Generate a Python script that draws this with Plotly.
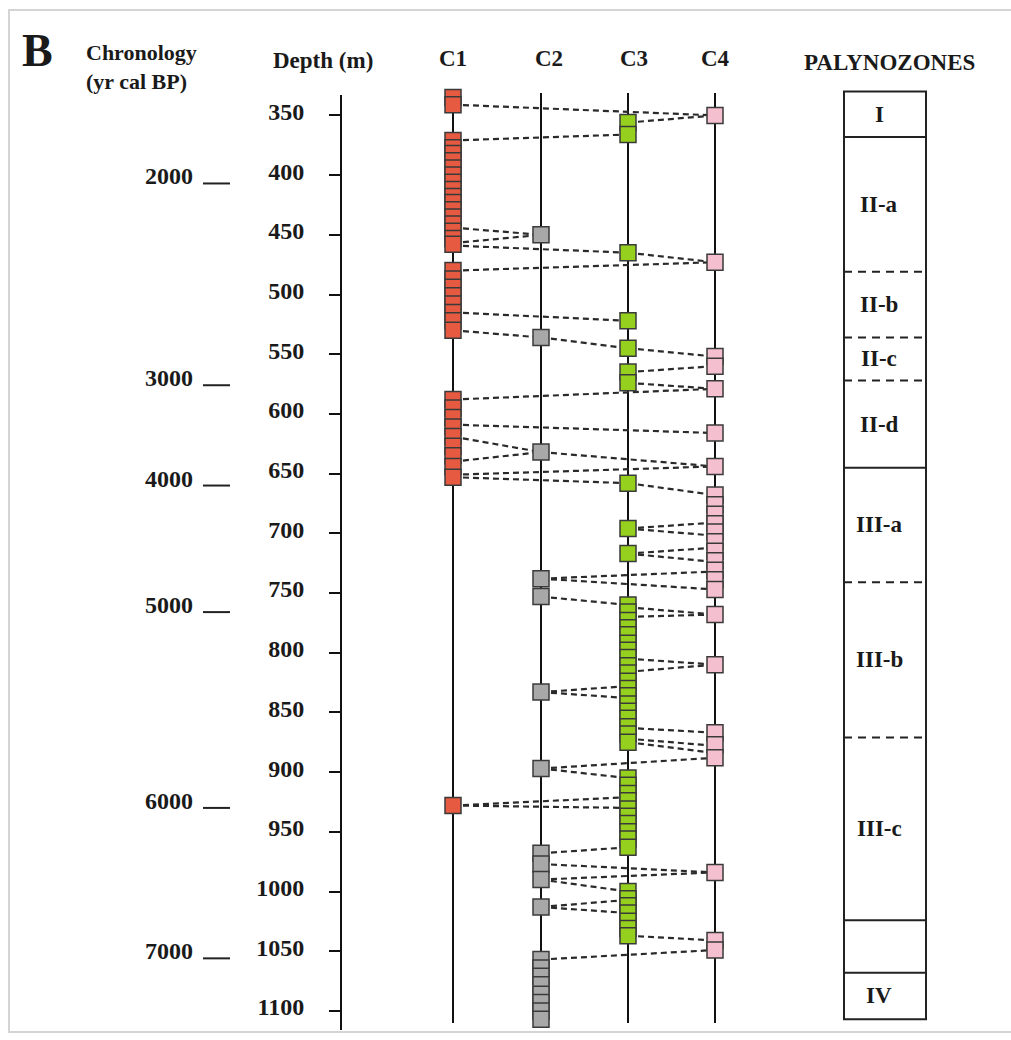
import plotly.graph_objects as go

# ---------------- data ----------------
depth_ticks = [350, 400, 450, 500, 550, 600, 650, 700, 750, 800, 850, 900, 950, 1000, 1050, 1100]

chron_ages = [2000, 3000, 4000, 5000, 6000, 7000]
chron_depths = [407, 576, 660, 766, 930, 1056]

columns = ["C1", "C2", "C3", "C4"]

c1_depths = [335, 341,
             371, 377, 382, 388, 394, 400, 406, 412, 418, 423, 429, 435, 441, 447, 453, 458,
             480, 487, 494, 501, 508, 515, 522, 530,
             588, 595, 603, 611, 619, 627, 635, 644, 653,
             928]
c2_depths = [450, 536, 632, 738, 753, 833, 897, 968, 977, 990, 1013,
             1057, 1064, 1071, 1078, 1086, 1093, 1100, 1107]
c3_depths = [356, 366, 465, 522, 545, 565, 574, 658, 696, 717,
             760, 766, 773, 779, 785, 792, 798, 804, 811, 817, 824, 830, 836, 843, 849, 855, 862, 868, 875,
             905, 911, 918, 924, 931, 937, 943, 950, 956, 963,
             1000, 1006, 1012, 1018, 1025, 1031, 1037]
c4_depths = [350, 473, 552, 560, 579, 616, 644,
             668, 676, 684, 692, 699, 707, 715, 723, 731, 739, 747,
             768, 810, 867, 877, 888, 984, 1041, 1049]

# correlation links: (from column, from depth) -> (to column, to depth)
link_from_col = ["C1", "C3", "C1", "C1", "C1", "C1", "C3", "C1", "C1", "C1",
                 "C2", "C3", "C3", "C3", "C1", "C1", "C1", "C1", "C2", "C1",
                 "C1", "C3", "C3", "C3", "C3", "C3", "C2", "C2", "C2", "C3",
                 "C3", "C3", "C3", "C2", "C2", "C3", "C3", "C3", "C2", "C2",
                 "C1", "C1", "C2", "C2", "C2", "C2", "C2", "C2", "C3", "C2"]
link_from_depth = [341, 356, 371, 444, 457, 459, 465, 480, 515, 530,
                   536, 545, 565, 574, 588, 609, 619, 640, 632, 651,
                   653, 658, 696, 696, 717, 717, 738, 738, 753, 762,
                   770, 805, 816, 833, 833, 863, 872, 875, 897, 897,
                   928, 928, 968, 977, 990, 990, 1013, 1013, 1037, 1057]
link_to_col = ["C4", "C4", "C3", "C2", "C2", "C3", "C4", "C4", "C3", "C2",
               "C3", "C4", "C4", "C4", "C4", "C4", "C2", "C2", "C4", "C4",
               "C3", "C4", "C4", "C4", "C4", "C4", "C4", "C4", "C3", "C4",
               "C4", "C4", "C4", "C3", "C3", "C4", "C4", "C4", "C4", "C3",
               "C3", "C3", "C3", "C4", "C4", "C3", "C3", "C3", "C4", "C4"]
link_to_depth = [350, 350, 366, 450, 450, 465, 473, 473, 522, 536,
                 545, 552, 560, 579, 579, 616, 632, 632, 644, 644,
                 658, 668, 691, 702, 712, 724, 732, 747, 760, 768,
                 768, 810, 810, 828, 838, 867, 878, 884, 888, 905,
                 921, 930, 963, 984, 984, 1000, 1007, 1018, 1041, 1049]

zone_names = ["I", "II-a", "II-b", "II-c", "II-d", "III-a", "III-b", "III-c", "", "IV"]
zone_tops = [330, 368, 481, 536, 572, 645, 741, 871, 1024, 1068]
zone_bottoms = [368, 481, 536, 572, 645, 741, 871, 1024, 1068, 1107]
zone_top_dashed = [False, False, True, True, True, False, True, True, False, False]

# ---------------- layout constants (pixels / styles) ----------------
W, H = 1011, 1040
PX_PER_M = 1.194
Y350 = 115.4
def px_to_depth(py):
    return 350 + (py - Y350) / PX_PER_M
def py_paper(py):
    return 1 - py / H

col_x = {"C1": 453, "C2": 541, "C3": 628, "C4": 715}
col_colors = {"C1": "#e65a42", "C2": "#a8a8a8", "C3": "#96d01e", "C4": "#f4c0cf"}
col_depths = {"C1": c1_depths, "C2": c2_depths, "C3": c3_depths, "C4": c4_depths}
col_label_x = {"C1": 453, "C2": 549, "C3": 634, "C4": 715}
axis_x = 341
zone_x0, zone_x1 = 844, 926
FONT = "Liberation Serif"
TXT = "#1a1a1a"

fig = go.Figure()

shapes = []
# light frame
shapes.append(dict(type="rect", xref="x", yref="paper", x0=9, x1=1030,
                   y0=py_paper(10), y1=py_paper(1032),
                   line=dict(color="#d4d4d4", width=2), layer="below"))
# depth axis line
shapes.append(dict(type="line", xref="x", yref="y", x0=axis_x, x1=axis_x,
                   y0=px_to_depth(95), y1=px_to_depth(1030),
                   line=dict(color="#111", width=2), layer="below"))
# core column lines
for c in columns:
    shapes.append(dict(type="line", xref="x", yref="y", x0=col_x[c], x1=col_x[c],
                       y0=px_to_depth(93), y1=px_to_depth(1023),
                       line=dict(color="#111", width=2), layer="below"))
# correlation links
for fc, fd, tc, td in zip(link_from_col, link_from_depth, link_to_col, link_to_depth):
    shapes.append(dict(type="line", xref="x", yref="y", x0=col_x[fc], y0=fd,
                       x1=col_x[tc], y1=td,
                       line=dict(color="#2a2a2a", width=2.2, dash="6px,4px"), layer="below"))
# chronology underscores
for d in chron_depths:
    shapes.append(dict(type="line", xref="x", yref="y", x0=203, x1=230, y0=d, y1=d,
                       line=dict(color="#222", width=2)))
# palynozone box
shapes.append(dict(type="rect", xref="x", yref="y", x0=zone_x0, x1=zone_x1,
                   y0=zone_tops[0], y1=zone_bottoms[-1],
                   line=dict(color="#222", width=2)))
for top, dashed in zip(zone_tops[1:], zone_top_dashed[1:]):
    shapes.append(dict(type="line", xref="x", yref="y", x0=zone_x0, x1=zone_x1, y0=top, y1=top,
                       line=dict(color="#222", width=2, dash="8px,6px" if dashed else "solid")))

# sample markers
for c in columns:
    d = col_depths[c]
    fig.add_trace(go.Scatter(
        x=[col_x[c]] * len(d), y=d, mode="markers", name=c, cliponaxis=False,
        marker=dict(symbol="square", size=16, color=col_colors[c],
                    line=dict(color="#3a3a3a", width=1.5)),
        hoverinfo="y+name", showlegend=False))

ann = []
def add_text(text, x, py, size=24, anchor="center", align="center"):
    ann.append(dict(text=text, x=x, y=py_paper(py), xref="x", yref="paper",
                    xanchor=anchor, yanchor="middle", showarrow=False, align=align,
                    font=dict(family=FONT, size=size, color=TXT, weight="bold")))

add_text("B", 20, 50, size=46, anchor="left")
add_text("Chronology<br>(yr cal BP)", 84, 67, size=22, anchor="left", align="left")
add_text("Depth (m)", 323, 60, size=23)
for c in columns:
    add_text(c, col_label_x[c], 58, size=23)
add_text("PALYNOZONES", 889, 62, size=23)

for age, d in zip(chron_ages, chron_depths):
    ann.append(dict(text=str(age), x=195, y=d, xref="x", yref="y", xanchor="right",
                    yanchor="bottom", yshift=-8, showarrow=False,
                    font=dict(family=FONT, size=24, color=TXT, weight="bold")))

for name, t, b in zip(zone_names, zone_tops, zone_bottoms):
    if name:
        ann.append(dict(text=name, x=(zone_x0 + zone_x1) / 2 - 6, y=(t + b) / 2, xref="x", yref="y",
                        xanchor="center", yanchor="middle", showarrow=False,
                        font=dict(family=FONT, size=23, color=TXT, weight="bold")))

fig.update_layout(
    width=W, height=H, margin=dict(l=0, r=0, t=0, b=0),
    paper_bgcolor="white", plot_bgcolor="white",
    shapes=shapes, annotations=ann, showlegend=False,
    xaxis=dict(range=[0, W], visible=False, domain=[0, 1], fixedrange=True),
    yaxis=dict(range=[px_to_depth(H), px_to_depth(0)], domain=[0, 1],
               anchor="free", position=axis_x / W, side="left",
               tickvals=depth_ticks, ticks="outside", ticklen=12, tickwidth=2,
               tickcolor="#111", showline=False, showgrid=False, zeroline=False,
               ticklabelstandoff=20, ticklabelshift=4,
               tickfont=dict(family=FONT, size=24, color=TXT, weight="bold"),
               fixedrange=True),
)

fig.write_html("out.html")
